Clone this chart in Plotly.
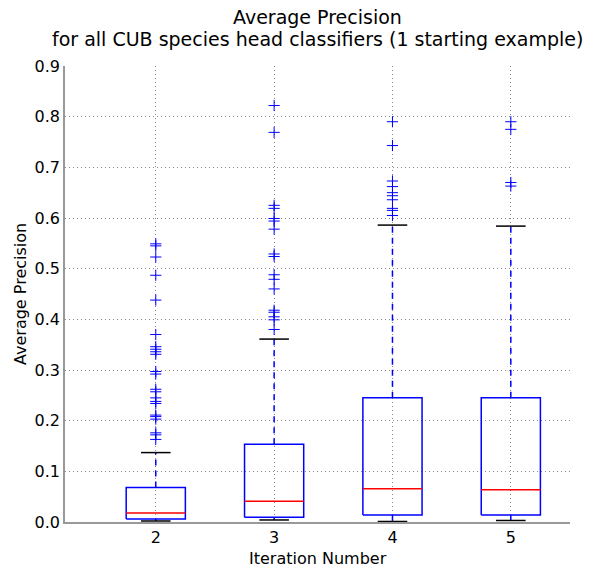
import plotly.graph_objects as go

iterations = [2, 3, 4, 5]
q1 = [0.006, 0.0095, 0.014, 0.014]
median = [0.018, 0.041, 0.0655, 0.0635]
q3 = [0.068, 0.1535, 0.245, 0.245]
whisker_low = [0.002, 0.004, 0.001, 0.003]
whisker_high = [0.137, 0.361, 0.586, 0.584]
outliers_2 = [0.549, 0.545, 0.523, 0.487, 0.438, 0.370, 0.346, 0.341, 0.336, 0.331,
              0.297, 0.292, 0.262, 0.257, 0.245, 0.238, 0.234, 0.211, 0.208, 0.203,
              0.176, 0.172, 0.163]
outliers_3 = [0.822, 0.769, 0.625, 0.619, 0.599, 0.594, 0.578, 0.529, 0.524, 0.488,
              0.479, 0.460, 0.418, 0.414, 0.405, 0.399, 0.380]
outliers_4 = [0.790, 0.743, 0.673, 0.662, 0.650, 0.644, 0.636, 0.619, 0.615, 0.605]
outliers_5 = [0.790, 0.775, 0.670, 0.663]
outliers = [outliers_2, outliers_3, outliers_4, outliers_5]

BOX_HALF = 0.25
CAP_HALF = 0.125

bx, by, mx, my, wx, wy, cx, cy, ox, oy = [], [], [], [], [], [], [], [], [], []
for i, c in enumerate(iterations):
    bx += [c - BOX_HALF, c + BOX_HALF, c + BOX_HALF, c - BOX_HALF, c - BOX_HALF, None]
    by += [q1[i], q1[i], q3[i], q3[i], q1[i], None]
    mx += [c - BOX_HALF, c + BOX_HALF, None]
    my += [median[i], median[i], None]
    wx += [c, c, None, c, c, None]
    wy += [q3[i], whisker_high[i], None, q1[i], whisker_low[i], None]
    cx += [c - CAP_HALF, c + CAP_HALF, None, c - CAP_HALF, c + CAP_HALF, None]
    cy += [whisker_high[i], whisker_high[i], None, whisker_low[i], whisker_low[i], None]
    ox += [c] * len(outliers[i])
    oy += outliers[i]

fig = go.Figure()
fig.add_trace(go.Scatter(x=wx, y=wy, mode="lines",
                         line=dict(color="blue", width=1.5, dash="6px,5px"), hoverinfo="skip"))
fig.add_trace(go.Scatter(x=bx, y=by, mode="lines",
                         line=dict(color="blue", width=1.5), hoverinfo="skip"))
fig.add_trace(go.Scatter(x=mx, y=my, mode="lines",
                         line=dict(color="red", width=1.5), hoverinfo="skip"))
fig.add_trace(go.Scatter(x=cx, y=cy, mode="lines",
                         line=dict(color="black", width=1.5), hoverinfo="skip"))
fig.add_trace(go.Scatter(x=ox, y=oy, mode="markers",
                         marker=dict(symbol="cross-thin-open", size=8, color="blue",
                                     line=dict(color="blue", width=1)), hoverinfo="skip"))

font = "DejaVu Sans"
H_PLOT = 568 - 66 - 46
fig.update_layout(
    width=591, height=568,
    margin=dict(l=65, r=21, t=66, b=46, autoexpand=False),
    plot_bgcolor="white", paper_bgcolor="white",
    showlegend=False,
    font=dict(family=font, size=16, color="black"),
    xaxis=dict(range=[1.233, 5.5], tickvals=iterations, ticktext=[str(v) for v in iterations],
               showgrid=True, gridcolor="#888", griddash="1px,3px", gridwidth=1,
               showline=True, linecolor="#999", linewidth=1.5,
               zeroline=False, ticks="", tickfont=dict(size=16), automargin=False),
    yaxis=dict(range=[0, 0.9], tickvals=[i / 10 for i in range(10)],
               ticktext=[f"{i / 10:.1f}" for i in range(10)],
               showgrid=True, gridcolor="#888", griddash="1px,3px", gridwidth=1,
               showline=True, linecolor="#999", linewidth=1.5,
               zeroline=False, ticks="", tickfont=dict(size=16), automargin=False),
    annotations=[
        dict(text="Average Precision", xref="paper", yref="paper", x=0.5,
             y=1 + (66 - 17) / H_PLOT, xanchor="center", yanchor="middle",
             showarrow=False, font=dict(size=19)),
        dict(text="for all CUB species head classifiers (1 starting example)",
             xref="paper", yref="paper", x=0.5, y=1 + (66 - 39) / H_PLOT,
             xanchor="center", yanchor="middle", showarrow=False, font=dict(size=19)),
        dict(text="Iteration Number", xref="paper", yref="paper", x=0.5,
             y=-(558 - 522) / H_PLOT, xanchor="center", yanchor="middle",
             showarrow=False, font=dict(size=16)),
        dict(text="Average Precision", xref="paper", yref="paper",
             x=-(65 - 20) / (591 - 65 - 21), y=0.5, xanchor="center", yanchor="middle",
             textangle=-90, showarrow=False, font=dict(size=16)),
    ],
)

fig.write_html("out.html", config={"displayModeBar": False},
               post_script="document.body.style.margin='0px';")
